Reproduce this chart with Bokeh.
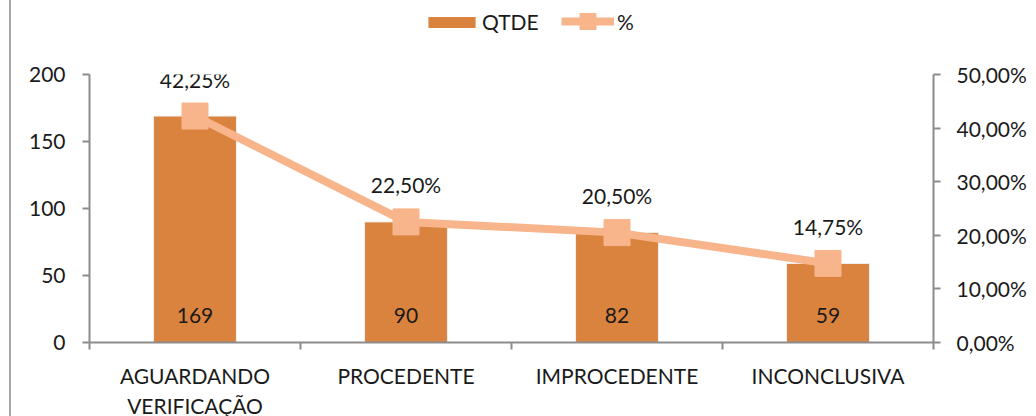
from bokeh.plotting import figure
from bokeh.layouts import column
from bokeh.models import (ColumnDataSource, Range1d, LinearAxis, FixedTicker,
                          CustomJSTickFormatter, Legend, LegendItem)
from bokeh.core.properties import value
from bokeh.embed import file_html
from bokeh.resources import INLINE

categories = ["AGUARDANDO VERIFICAÇÃO", "PROCEDENTE", "IMPROCEDENTE", "INCONCLUSIVA"]
qtde = [169, 90, 82, 59]
pct = [42.25, 22.50, 20.50, 14.75]
left_ticks = [0, 50, 100, 150, 200]
right_ticks = [0, 10, 20, 30, 40, 50]

FONT = "Lato"
FS = "21px"
TXT = "#1a1a1a"
AXC = "#8c8c8c"
BAR = "#DA833E"
LINE = "#F8B48B"
W = 1036
LEG_H = 44

xs = [i + 0.5 for i in range(len(categories))]
src = ColumnDataSource(dict(
    x=xs, qtde=qtde, pct=pct,
    qtde_lbl=[str(v) for v in qtde],
    pct_lbl=[("%.2f" % v).replace(".", ",") + "%" for v in pct],
    zero=[0] * len(qtde),
))

# ---- legend strip ----
lg = figure(width=W, height=LEG_H, output_backend="svg", toolbar_location=None,
            x_axis_location=None, y_axis_location=None,
            x_range=Range1d(0, len(categories)), y_range=Range1d(0, 200),
            min_border=0, min_border_left=0, min_border_right=0,
            min_border_top=0, min_border_bottom=0)
lg.extra_y_ranges = {"pct": Range1d(0, 50)}
lg.outline_line_color = None
lg.grid.visible = False
lg.border_fill_color = None
lg.background_fill_color = None
lg_bar = lg.vbar(x="x", top="qtde", width=0.393, source=src, fill_color=BAR,
                 line_color=None, visible=False)
lg_line = lg.line(x="x", y="pct", source=src, y_range_name="pct", line_color=LINE,
                  line_width=8, visible=False)
lg_mk = lg.scatter(x="x", y="pct", source=src, y_range_name="pct", marker="square",
                   fill_color=LINE, line_color=LINE, visible=False)

common = dict(orientation="horizontal", padding=0, margin=0, border_line_color=None,
              background_fill_alpha=0, label_text_font=FONT, label_text_font_size=FS,
              label_text_color=TXT, click_policy="none", label_height=20)
leg_a = Legend(items=[LegendItem(label="QTDE", renderers=[lg_bar])],
               location=(333, 10), glyph_width=59, glyph_height=14,
               label_standoff=1, **common)
leg_b = Legend(items=[LegendItem(label="%", renderers=[lg_line, lg_mk])],
               location=(472, 3), glyph_width=53, glyph_height=40,
               label_standoff=3, **common)
lg.add_layout(leg_a, "center")
lg.add_layout(leg_b, "center")

# ---- main chart ----
p = figure(width=W, height=416 - LEG_H, output_backend="svg", toolbar_location=None,
           x_range=Range1d(0, len(categories)), y_range=Range1d(0, 200),
           min_border_left=89, min_border_right=103, min_border_top=74 - LEG_H,
           min_border_bottom=74)
p.frame_width = 844
p.frame_height = 268
p.extra_y_ranges = {"pct": Range1d(0, 50)}
p.outline_line_color = None
p.grid.visible = False
p.xaxis.visible = False
p.yaxis.visible = False
p.border_fill_color = None

def style_axis(ax):
    ax.axis_line_color = AXC
    ax.axis_line_width = 2
    ax.major_tick_line_color = AXC
    ax.major_tick_line_width = 2
    ax.minor_tick_line_color = AXC
    ax.minor_tick_line_width = 2
    ax.major_tick_in = 0
    ax.minor_tick_in = 0
    ax.minor_tick_out = 0
    ax.major_tick_out = 7
    ax.major_label_text_font = FONT
    ax.major_label_text_font_size = FS
    ax.major_label_text_color = TXT

xax = LinearAxis(ticker=FixedTicker(ticks=xs, minor_ticks=list(range(len(categories) + 1))),
                 formatter=CustomJSTickFormatter(args=dict(cats=categories),
                                                 code="return cats[Math.floor(tick)].split(' ').join('\\n');"))
style_axis(xax)
xax.major_tick_out = 0
xax.minor_tick_out = 7
xax.major_label_standoff = 13
p.add_layout(xax, "below")

lax = LinearAxis(ticker=FixedTicker(ticks=left_ticks))
style_axis(lax)
lax.major_label_standoff = 17
p.add_layout(lax, "left")

rax = LinearAxis(y_range_name="pct", ticker=FixedTicker(ticks=right_ticks),
                 formatter=CustomJSTickFormatter(code="return tick.toFixed(2).replace('.', ',') + '%';"))
style_axis(rax)
rax.major_label_standoff = 16
p.add_layout(rax, "right")

p.vbar(x="x", top="qtde", width=0.393, source=src, fill_color=BAR,
       line_color="#f0f0f0", line_width=1)
p.line(x="x", y="pct", source=src, y_range_name="pct", line_color=LINE, line_width=8)
p.scatter(x="x", y="pct", source=src, y_range_name="pct", marker="square",
          size=26, fill_color=LINE, line_color=LINE)

p.text(x="x", y="zero", text="qtde_lbl", source=src, text_align="center",
       text_baseline="middle", y_offset=-27, text_font=value(FONT),
       text_font_size=FS, text_color=TXT)
p.text(x="x", y="pct", text="pct_lbl", source=src, y_range_name="pct",
       text_align="center", text_baseline="middle", y_offset=-37,
       text_font=value(FONT), text_font_size=FS, text_color=TXT)

layout = column(lg, p, spacing=0)
layout.styles = {"background": "linear-gradient(to right, #ffffff 9px, #a6a6a6 9px, #a6a6a6 11px, #ffffff 11px)"}

open("out.html", "w").write(file_html(layout, INLINE))
